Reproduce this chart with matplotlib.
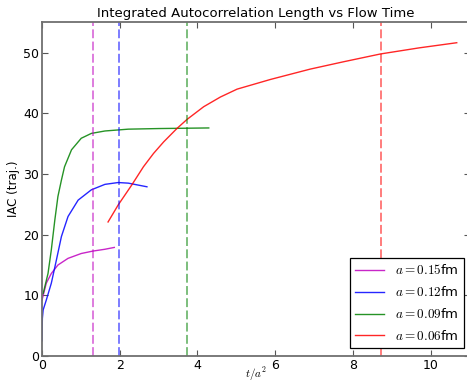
import numpy as np
import matplotlib
matplotlib.use('Agg')
import matplotlib.pyplot as plt

# IAC curves, one per lattice spacing
t_015 = [0.0, 0.11, 0.24, 0.41, 0.67, 1.01, 1.31, 1.62, 1.86]
iac_015 = [9.2, 12.0, 13.6, 15.0, 16.1, 16.9, 17.3, 17.6, 17.9]

t_012 = [0.0, 0.005, 0.01, 0.03, 0.11, 0.24, 0.37, 0.5, 0.67, 0.93, 1.27, 1.62, 1.96, 2.22, 2.7]
iac_012 = [2.5, 4.5, 6.2, 7.6, 9.2, 12.0, 15.8, 19.7, 23.0, 25.7, 27.4, 28.3, 28.6, 28.5, 27.9]

t_009 = [0.0, 0.03, 0.155, 0.24, 0.33, 0.41, 0.5, 0.58, 0.76, 1.01, 1.27, 1.62, 2.22, 3.0, 4.29]
iac_009 = [10.2, 10.3, 13.6, 17.5, 22.4, 26.3, 29.0, 31.2, 34.0, 35.9, 36.7, 37.1, 37.4, 37.5, 37.6]

t_006 = [1.70, 1.96, 2.31, 2.61, 2.87, 3.13, 3.47, 3.73, 4.16, 4.59, 5.02, 5.45, 5.88,
         6.9, 7.75, 8.71, 9.7, 10.67]
iac_006 = [22.1, 24.9, 28.2, 31.2, 33.4, 35.3, 37.5, 39.0, 41.1, 42.7, 44.0, 44.8, 45.6,
           47.3, 48.5, 49.8, 50.8, 51.65]

# flow time cut per ensemble (dashed markers)
t_cut = [1.3, 1.98, 3.73, 8.71]

labels = [r'$a=0.15$fm', r'$a=0.12$fm', r'$a=0.09$fm', r'$a=0.06$fm']
colors = ['m', 'b', 'g', 'r']

plt.rcParams['mathtext.fontset'] = 'cm'

fig = plt.figure(figsize=(4.67, 3.85), dpi=100)
ax = fig.add_axes([0.0899, 0.0753, 0.9156, 0.8665])

curves = [(t_015, iac_015), (t_012, iac_012), (t_009, iac_009), (t_006, iac_006)]
for (t, v), c, lab in zip(curves, colors, labels):
    ax.plot(t, v, color=c, lw=1, alpha=0.85, label=lab)
for tc, c in zip(t_cut, colors):
    ax.axvline(tc, color=c, lw=1.1, alpha=0.65, dashes=(5.8, 2.2))

ax.set_xlim(0, 11)
ax.set_ylim(0, 55)
ax.set_xticks(np.arange(0, 11, 2))
ax.set_yticks(np.arange(0, 51, 10))
ax.tick_params(direction='in', top=True, right=True, length=4, labelsize=9,
               color='#555555', pad=2)
for s in ax.spines.values():
    s.set_color('#707070')
    s.set_linewidth(1.3)

ax.set_title('Integrated Autocorrelation Length vs Flow Time', fontsize=9.5, pad=4)
ax.set_xlabel(r'$t/a^2$', fontsize=8)
ax.xaxis.set_label_coords(0.5, -0.028)
ax.set_ylabel('IAC (traj.)', fontsize=8.5, labelpad=2)

leg = ax.legend(loc='lower right', bbox_to_anchor=(0.987, 0.023), borderaxespad=0,
                fancybox=False, edgecolor='black', framealpha=1, fontsize=9.5,
                handlelength=2.2, labelspacing=0.6)
leg.get_frame().set_linewidth(0.9)

fig.savefig('out.png', dpi=100)
